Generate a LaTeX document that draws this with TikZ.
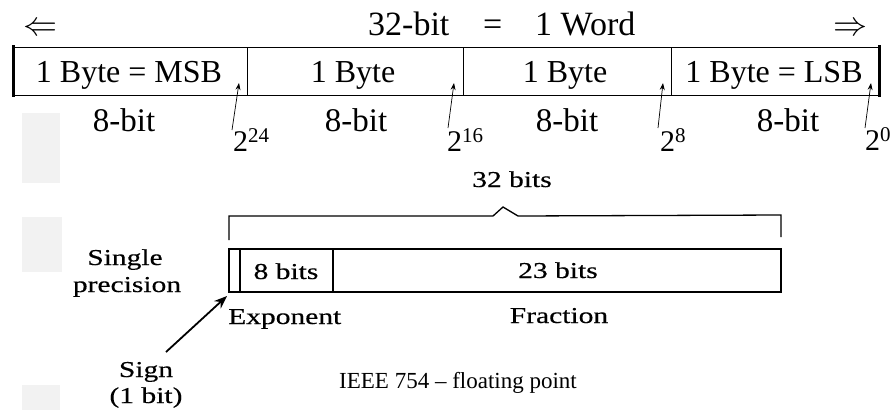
\documentclass[tikz,border=0pt]{standalone}
\usepackage{graphicx}
\usepackage{fontspec}
\setmainfont{Liberation Serif}
\newfontfamily\scanfont[FakeStretch=1.3,FakeBold=0.4]{Liberation Serif}
\usetikzlibrary{arrows.meta}
\begin{document}
\begin{tikzpicture}[x=1pt,y=-1pt,
  big/.style={inner sep=0pt,font=\fontsize{33}{36}\selectfont},
  bytefont/.style={inner sep=0pt,font=\fontsize{32}{36}\selectfont},
  title/.style={inner sep=0pt,font=\fontsize{34}{38}\selectfont,anchor=base west},
  dblarrow/.style={inner sep=0pt,anchor=base},
  bytetxt/.style={bytefont,anchor=base},
  bittxt/.style={big,anchor=base},
  powtxt/.style={inner sep=0pt,font=\fontsize{30}{32}\selectfont,anchor=base west},
  thinline/.style={line width=1pt},
  thickline/.style={line width=3pt},
  ptr/.style={line width=0.7pt,-{Stealth[length=7pt,width=5pt]}},
  scan/.style={inner sep=0pt,font=\scanfont\fontsize{22.7}{26}\selectfont,anchor=base},
  scanbox/.style={line width=2.6pt},
  scanline/.style={line width=1.3pt},
  smudge/.style={fill=black!5,draw=none},
  caption/.style={inner sep=0pt,font=\fontsize{23}{26}\selectfont,anchor=base}]
\useasboundingbox (0,0) rectangle (893,410);
\fill[white] (0,0) rectangle (893,410);
% scan artifacts
\fill[smudge] (22,113) rectangle (60,183);
\fill[smudge] (22,217) rectangle (62,272);
\fill[smudge] (22,385) rectangle (60,410);
% title
\node[dblarrow] (la) at (40,35) {\scalebox{3.4}{$\Leftarrow$}};
\node[dblarrow] (ra) at (850,35) {\scalebox{3.4}{$\Rightarrow$}};
\node[title] (t1) at (368,35) {32-bit};
\node[title] (t2) at (483,35) {=};
\node[title] (t3) at (535,35) {1 Word};
% word box
\draw[thinline] (12,47) -- (880,47);
\draw[thinline] (12,95) -- (880,95);
\draw[thickline] (13,45) -- (13,97);
\draw[thickline] (879,45) -- (879,97);
\draw[thinline] (247,47) -- (247,95);
\draw[thinline] (463,47) -- (463,95);
\draw[thinline] (671,47) -- (671,95);
\node[bytetxt] (b1) at (129,82) {1 Byte = MSB};
\node[bytetxt] (b2) at (353,82) {1 Byte};
\node[bytetxt] (b3) at (565,82) {1 Byte};
\node[bytetxt] (b4) at (774,82) {1 Byte = LSB};
\node[bittxt] (e1) at (124,131) {8-bit};
\node[bittxt] (e2) at (356,131) {8-bit};
\node[bittxt] (e3) at (567,131) {8-bit};
\node[bittxt] (e4) at (788,131) {8-bit};
% powers
\node[powtxt] (p24) at (233,151) {2\raisebox{9pt}{\fontsize{21}{22}\selectfont 24}};
\node[powtxt] (p16) at (447,151) {2\raisebox{9pt}{\fontsize{21}{22}\selectfont 16}};
\node[powtxt] (p8) at (660,151) {2\raisebox{9pt}{\fontsize{21}{22}\selectfont 8}};
\node[powtxt] (p0) at (865,150) {2\raisebox{9pt}{\fontsize{21}{22}\selectfont 0}};
\coordinate (s24) at (232,130); \coordinate (h24) at (239,83);
\coordinate (s16) at (448,128); \coordinate (h16) at (454,83);
\coordinate (s8) at (658,128);  \coordinate (h8) at (663,83);
\coordinate (s0) at (865,128);  \coordinate (h0) at (871,83);
\draw[ptr] (s24) -- (h24);
\draw[ptr] (s16) -- (h16);
\draw[ptr] (s8) -- (h8);
\draw[ptr] (s0) -- (h0);
% IEEE 754 single precision
\node[scan] (n32) at (512,187) {32 bits};
\draw[scanline] (229,240) -- (229,216) -- (493,216) -- (503,207) -- (518,216) -- (781,215) -- (781,237);
\draw[scanbox] (229,249) rectangle (781,292);
\draw[line width=2pt] (240,249) -- (240,292);
\draw[line width=2pt] (333,249) -- (333,292);
\node[scan] (n8) at (286,279) {8 bits};
\node[scan] (n23) at (558,278) {23 bits};
\node[scan,anchor=base west] (exp) at (228,324) {Exponent};
\node[scan] (frac) at (559,323) {Fraction};
\node[scan] (sp1) at (125,265) {Single};
\node[scan] (sp2) at (127,292) {precision};
\node[scan] (sg1) at (146,377) {Sign};
\node[scan] (sg2) at (146,403) {(1 bit)};
\coordinate (sgtail) at (166,352);
\coordinate (sghead) at (227,296);
\draw[line width=1.8pt,-{Stealth[length=13pt,width=10pt]}] (sgtail) -- (sghead);
\node[caption] (cap) at (458,388) {IEEE 754 -- floating point};
\end{tikzpicture}
\end{document}
